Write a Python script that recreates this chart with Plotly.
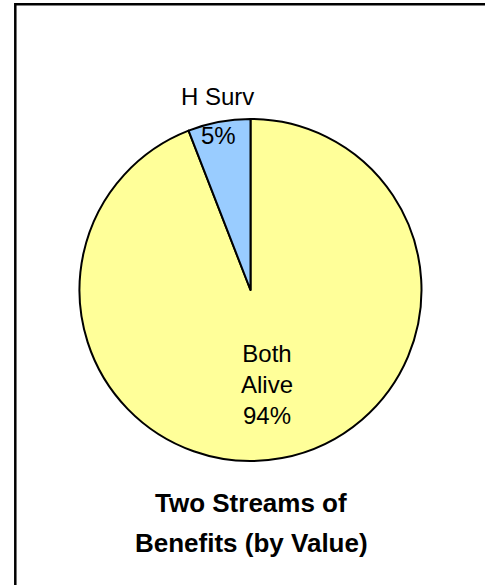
import plotly.graph_objects as go

# Pie data
labels = ["Both Alive", "H Surv"]
values = [94.1, 5.9]
pct_text = ["94%", "5%"]
colors = ["#FFFF99", "#99CCFF"]

title_lines = ["Two Streams of", "Benefits (by Value)"]

W, H = 485, 585
FONT = "Liberation Sans, Arial, sans-serif"

fig = go.Figure()

fig.add_trace(go.Pie(
    labels=labels, values=values,
    sort=False, direction="clockwise", rotation=0,
    marker=dict(colors=colors, line=dict(color="black", width=2)),
    textinfo="none", hoverinfo="label+percent",
    showlegend=False,
    domain=dict(x=[79.5 / W, 421.5 / W], y=[1 - 461 / H, 1 - 119 / H]),
))

def px(x):
    return x / W

def py(y):
    return 1 - y / H

ann = [
    # H Surv: name outside, percent inside
    dict(x=px(217), y=py(97), text=labels[1]),
    dict(x=px(218), y=py(135), text=pct_text[1]),
    # Both Alive
    dict(x=px(267), y=py(384),
         text="Both<br>Alive<br>" + pct_text[0]),
]
for a in ann:
    a["font"] = dict(family=FONT, size=24, color="black")
# chart title below the pie, one annotation per line
for line, yc in zip(title_lines, [503, 543]):
    ann.append(dict(x=px(251), y=py(yc), text="<b>" + line + "</b>",
                    font=dict(family=FONT, size=26, color="black")))
for a in ann:
    a.update(xref="paper", yref="paper", showarrow=False,
             xanchor="center", yanchor="middle")

fig.update_layout(
    width=W, height=H,
    margin=dict(l=0, r=0, t=0, b=0),
    paper_bgcolor="white", plot_bgcolor="white",
    font=dict(family=FONT),
    annotations=ann,
    shapes=[dict(type="rect", xref="paper", yref="paper",
                 x0=15.3 / W, x1=1.2, y0=-0.2, y1=1 - 4.3 / H,
                 line=dict(color="black", width=2.5))],
)

fig.write_html("out.html", config={"displayModeBar": False},
               post_script="document.body.style.margin='0';"
                           "document.body.style.overflow='hidden';")
